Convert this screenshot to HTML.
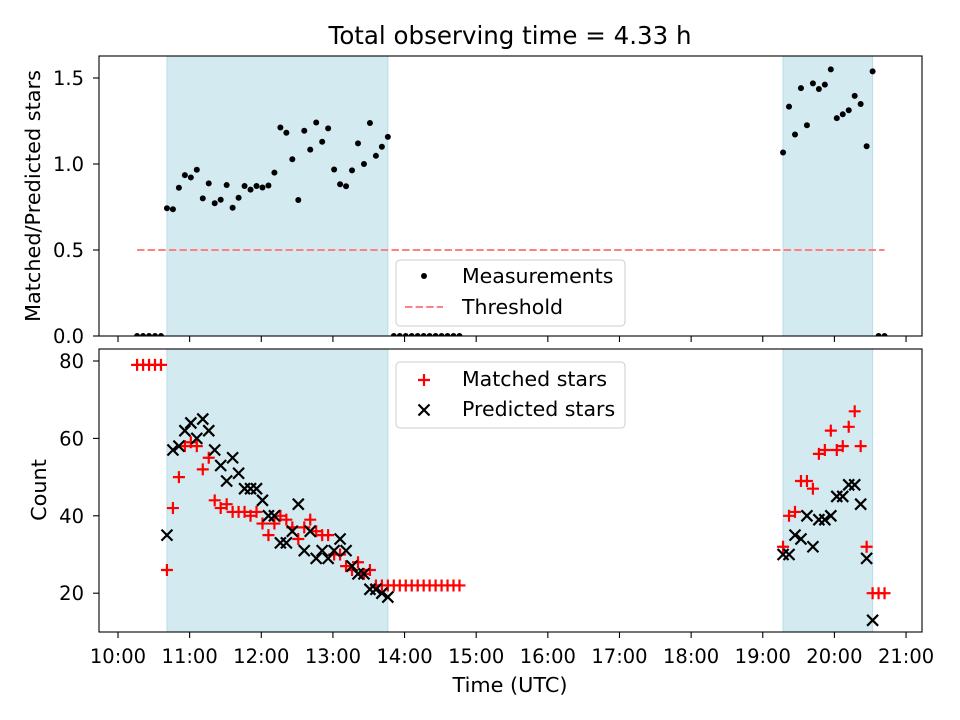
<!DOCTYPE html>
<html><head><meta charset="utf-8"><style>
html,body{margin:0;padding:0;background:#fff;}
svg{display:block;font-family:"DejaVu Sans","Liberation Sans",sans-serif;}
</style></head><body>
<svg id="chart" width="960" height="720" viewBox="0 0 960 720" xmlns="http://www.w3.org/2000/svg"></svg>
<script>
// Time in minutes after 10:00 UTC
const preTimes = [16,21,26,31,36];
const preMatched = [79,79,79,79,79];
const g1Start = 41;
const g1Matched = [26,42,50,58,59,58,52,55,44,42,43,41,41,41,40,41,38,35,38,40,39,37,34,37,39,36,35,35,30,30,27,26,28,25,26,22,22,22];
const g1Predicted = [35,57,58,62,64,60,65,62,57,53,49,55,51,47,47,47,44,40,40,33,33,36,43,31,36,29,31,29,31,34,31,27,25,25,21,21,20,19];
const postMatched = [22,22,22,22,22,22,22,22,22,22,22,22];
const g2Start = 557;
const g2Matched = [32,40,41,49,49,47,56,57,62,57,58,63,67,58,32,20];
const g2Predicted = [30,30,35,34,40,32,39,39,40,45,45,48,48,43,29,13];
const tailMatched = [20,20];
const thresholdValue = 0.5;
const xTickLabels = ["10:00","11:00","12:00","13:00","14:00","15:00","16:00","17:00","18:00","19:00","20:00","21:00"];
const topYTicks = [0,0.5,1.0,1.5];
const botYTicks = [20,40,60,80];

const times=[], matched=[], predicted=[];
preTimes.forEach((t,i)=>{times.push(t);matched.push(preMatched[i]);predicted.push(0);});
g1Matched.forEach((m,i)=>{times.push(g1Start+5*i);matched.push(m);predicted.push(g1Predicted[i]);});
const g1End = g1Start+5*(g1Matched.length-1);
postMatched.forEach((m,i)=>{times.push(g1End+5*(i+1));matched.push(m);predicted.push(0);});
g2Matched.forEach((m,i)=>{times.push(g2Start+5*i);matched.push(m);predicted.push(g2Predicted[i]);});
const g2End = g2Start+5*(g2Matched.length-1);
tailMatched.forEach((m,i)=>{times.push(g2End+5*(i+1));matched.push(m);predicted.push(0);});
const ratio = matched.map((m,i)=>predicted[i]>0?m/predicted[i]:0);

const svg=document.getElementById('chart');
const NS="http://www.w3.org/2000/svg";
function el(tag,attrs,parent){const e=document.createElementNS(NS,tag);for(const k in attrs)e.setAttribute(k,attrs[k]);(parent||svg).appendChild(e);return e;}

const L=99,R=922;
const xS=t=>118+(t/60)*71.64;
const T={top:56,bot:336}; const yT=v=>336-v*172;
const B={top:349,bot:632}; const yB=v=>361+(80-v)*3.87;

const defs=el('defs',{});
const c1=el('clipPath',{id:'clipT'},defs); el('rect',{x:L,y:T.top,width:R-L,height:T.bot-T.top},c1);
const c2=el('clipPath',{id:'clipB'},defs); el('rect',{x:L,y:B.top,width:R-L,height:B.bot-B.top},c2);

const spans=[[g1Start,g1End],[g2Start,g2End]];
function shade(ax,name){
  spans.forEach((s,i)=>{
    const r=el('rect',{x:xS(s[0]),y:ax.top,width:xS(s[1])-xS(s[0]),height:ax.bot-ax.top,fill:'#d4eaf1',stroke:'#b9dbe7','stroke-width':1});
    
    
  });
}

// TOP AXES
shade(T,'top-observing');
const gT=el('g',{'clip-path':'url(#clipT)'});


const th=el('line',{x1:xS(times[0]),x2:xS(times[times.length-1]),y1:yT(thresholdValue),y2:yT(thresholdValue),stroke:'#ff8080','stroke-width':2,'stroke-dasharray':'7.4,3.2'},gT);


ratio.forEach((v,i)=>{
  const c=el('circle',{cx:xS(times[i]),cy:yT(v),r:3,fill:'#000'},gT);
  
  
});
el('rect',{x:L,y:T.top,width:R-L,height:T.bot-T.top,fill:'none',stroke:'#000','stroke-width':1.1});

// BOTTOM AXES
shade(B,'bottom-observing');
const gB=el('g',{'clip-path':'url(#clipB)'});


matched.forEach((v,i)=>{
  const x=xS(times[i]),y=yB(v),s=6;
  const p=el('path',{d:`M${x-s},${y}H${x+s}M${x},${y-s}V${y+s}`,stroke:'#ff0000','stroke-width':2.2,fill:'none'},gB);
  
  
});
predicted.forEach((v,i)=>{
  if(v<=0)return;
  const x=xS(times[i]),y=yB(v),s=5.5;
  const p=el('path',{d:`M${x-s},${y-s}L${x+s},${y+s}M${x-s},${y+s}L${x+s},${y-s}`,stroke:'#000','stroke-width':2.2,fill:'none'},gB);
  
  
});
el('rect',{x:L,y:B.top,width:R-L,height:B.bot-B.top,fill:'none',stroke:'#000','stroke-width':1.1});

// TICKS
xTickLabels.forEach((lab,i)=>{
  const x=xS(i*60);
  el('line',{x1:x,x2:x,y1:T.bot,y2:T.bot+6,stroke:'#000','stroke-width':1.1});
  el('line',{x1:x,x2:x,y1:B.bot,y2:B.bot+6,stroke:'#000','stroke-width':1.1});
  const t=el('text',{x:x,y:663,'text-anchor':'middle','font-size':19.5,fill:'#000'});
  t.textContent=lab;
  
  
});
topYTicks.forEach(v=>{
  const y=yT(v);
  el('line',{x1:L-6,x2:L,y1:y,y2:y,stroke:'#000','stroke-width':1.1});
  const t=el('text',{x:L-15,y:y+7,'text-anchor':'end','font-size':19.5,fill:'#000'});
  t.textContent=v.toFixed(1);
  
  
});
botYTicks.forEach(v=>{
  const y=yB(v);
  el('line',{x1:L-6,x2:L,y1:y,y2:y,stroke:'#000','stroke-width':1.1});
  const t=el('text',{x:L-15,y:y+7,'text-anchor':'end','font-size':19.5,fill:'#000'});
  t.textContent=v;
  
  
});

// LABELS
function txt(name,x,y,s,size,extra){const t=el('text',Object.assign({x:x,y:y,'font-size':size,fill:'#000','text-anchor':'middle'},extra||{}));t.textContent=s;return t;}
txt('chart-title',510,44,'Total observing time = 4.33 h',24.5);
txt('x-axis-title',510,692,'Time (UTC)',20.8);
txt('top-y-axis-title',40,196,'Matched/Predicted stars',20.8,{transform:'rotate(-90 40 196)'});
txt('bottom-y-axis-title',46,490,'Count',20.8,{transform:'rotate(-90 46 490)'});

// LEGENDS
const lg1=el('g',{});


el('rect',{x:396,y:260,width:229,height:66,rx:4,fill:'#fff','fill-opacity':0.8,stroke:'#ccc','stroke-width':1},lg1);
el('circle',{cx:424,cy:276,r:3,fill:'#000'},lg1);
txt('legend-measurements',462,283,'Measurements',20.5,{'text-anchor':'start'});
el('line',{x1:405,x2:443,y1:307,y2:307,stroke:'#ff8080','stroke-width':2,'stroke-dasharray':'7.4,3.2'},lg1);
txt('legend-threshold',462,314,'Threshold',20.5,{'text-anchor':'start'});

const lg2=el('g',{});


el('rect',{x:396,y:362,width:229,height:66,rx:4,fill:'#fff','fill-opacity':0.8,stroke:'#ccc','stroke-width':1},lg2);
el('path',{d:'M418,380H430M424,374V386',stroke:'#ff0000','stroke-width':2.2},lg2);
txt('legend-matched',462,386,'Matched stars',20.5,{'text-anchor':'start'});
el('path',{d:'M418.5,404.5L429.5,415.5M418.5,415.5L429.5,404.5',stroke:'#000','stroke-width':2.2},lg2);
txt('legend-predicted',462,416,'Predicted stars',20.5,{'text-anchor':'start'});
</script>
</body></html>
